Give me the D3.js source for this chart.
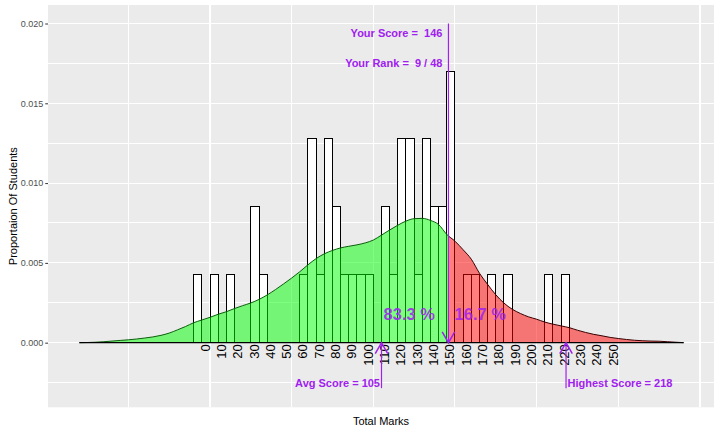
<!DOCTYPE html>
<html><head><meta charset="utf-8">
<script src="https://cdn.jsdelivr.net/npm/d3@7"></script>
<style>
body{margin:0;background:#fff}
svg{display:block}
text{font-family:"Liberation Sans",Arial,sans-serif}
</style>
</head><body>
<svg id="chart" width="720" height="432"></svg>
<script>
// ---- data ----
const binStarts = [-10,0,10,25,30,55,60,65,70,75,80,85,90,95,105,110,115,120,125,130,135,140,145,155,160,170,180,205,215];
const binCounts = [1,1,1,2,1,1,3,1,3,2,1,1,1,1,2,1,3,3,1,3,2,2,4,1,1,1,1,1,1];
const binWidth = 5;

const densityX = [-80,-75,-70,-65,-60,-55,-50,-45,-40,-35,-30,-25,-20,-15,-10,-5,
  0,5,10,15,20,25,30,35,40,45,50,55,60,65,70,75,80,85,90,95,100,
  105,110,115,120,125,130,135,140,145,150,155,160,165,170,175,180,185,190,195,200,
  205,210,215,220,225,230,235,240,245,250,255,260,265,270,275,280,285,290];
const densityY = [0,0.00001,0.00003,0.00006,0.0001,0.00014,0.00018,0.00023,0.00029,0.00036,0.00046,0.0006,0.0008,0.00101,0.00125,0.00142,
  0.00159,0.00178,0.00194,0.00214,0.00232,0.00249,0.00271,0.00299,0.00332,0.00368,0.00405,0.00445,0.00488,0.00527,0.00557,0.00578,0.00594,0.00604,0.00613,0.00625,0.00643,
  0.00674,0.00706,0.00736,0.00762,0.00777,0.00779,0.00766,0.0074,0.00678,0.00636,0.00582,0.00523,0.00435,0.00365,0.003,0.00248,0.0021,0.00183,0.00162,0.00147,
  0.00129,0.00116,0.00105,0.00094,0.00078,0.00064,0.00052,0.00043,0.00033,0.00026,0.0002,0.00015,0.00012,0.0001,0.00009,0.00006,0.00003,0];

const markLabels = [0,10,20,30,40,50,60,70,80,90,100,110,120,130,140,150,160,170,180,190,200,210,220,230,240,250];
const yTicks = [0,0.005,0.01,0.015,0.02];
const yMinor = [-0.0025,0.0025,0.0075,0.0125,0.0175];
const xMajor = [0,100,200,300];
const xMinor = [-50,50,150,250];

const yourScore = 146, avgScore = 105, highestScore = 218, yourRank = 9, classSize = 48;
const pctBelowText = "83.3 %", pctAboveText = "16.7 %";
const yourScoreTop = 0.02, arrowBottom = -0.00285;
const textYScore = 0.0194, textYRank = 0.0175, textYBottom = -0.0025, textYPct = 0.00178;
const pctBelowX = 122, pctAboveX = 165.5;

const yTitle = "Proportaion Of Students";
const xTitle = "Total Marks";

// ---- layout ----
const svg = d3.select("#chart");
const panel = {left:48, right:714, top:5, bottom:407.3};
const x = d3.scaleLinear().domain([-99.2, 308.6]).range([panel.left, panel.right]);
const y = d3.scaleLinear().domain([-0.00405, 0.02116]).range([panel.bottom, panel.top]);
const purple = "#A020F0";
const nTotal = d3.sum(binCounts);

svg.append("rect").attr("x",panel.left).attr("y",panel.top)
  .attr("width",panel.right-panel.left).attr("height",panel.bottom-panel.top)
  .attr("fill","#EBEBEB");

const grid = svg.append("g").attr("stroke","#fff").attr("shape-rendering","crispEdges");
grid.selectAll(".hmin").data(yMinor).join("line")
  .attr("x1",panel.left).attr("x2",panel.right).attr("y1",d=>y(d)).attr("y2",d=>y(d)).attr("stroke-width",1);
grid.selectAll(".hmaj").data(yTicks).join("line")
  .attr("x1",panel.left).attr("x2",panel.right).attr("y1",d=>y(d)).attr("y2",d=>y(d)).attr("stroke-width",1.1);
grid.selectAll(".vmin").data(xMinor).join("line")
  .attr("y1",panel.top).attr("y2",panel.bottom).attr("x1",d=>x(d)).attr("x2",d=>x(d)).attr("stroke-width",1);
grid.selectAll(".vmaj").data(xMajor).join("line")
  .attr("y1",panel.top).attr("y2",panel.bottom).attr("x1",d=>x(d)).attr("x2",d=>x(d)).attr("stroke-width",1.1);

// histogram bars
const bins = binStarts.map((s,i)=>({x0:s, x1:s+binWidth, p: binCounts[i]/(nTotal*binWidth)}));
svg.append("g").selectAll("rect").data(bins).join("rect")
  .attr("x",d=>x(d.x0)).attr("width",d=>x(d.x1)-x(d.x0))
  .attr("y",d=>y(d.p)).attr("height",d=>y(0)-y(d.p))
  .attr("fill","#fff").attr("stroke","#000").attr("stroke-width",1)
  .attr("shape-rendering","crispEdges");

// density
const dens = densityX.map((v,i)=>[v,densityY[i]]);
const defs = svg.append("defs");
defs.append("clipPath").attr("id","clipL").append("rect")
  .attr("x",0).attr("y",0).attr("width",x(yourScore)).attr("height",432);
defs.append("clipPath").attr("id","clipR").append("rect")
  .attr("x",x(yourScore)).attr("y",0).attr("width",720-x(yourScore)).attr("height",432);
const area = d3.area().x(d=>x(d[0])).y0(y(0)).y1(d=>y(d[1])).curve(d3.curveMonotoneX);
const line = d3.line().x(d=>x(d[0])).y(d=>y(d[1])).curve(d3.curveMonotoneX);
svg.append("path").attr("d",area(dens)).attr("fill","#00FF00").attr("fill-opacity",0.5).attr("clip-path","url(#clipL)");
svg.append("path").attr("d",area(dens)).attr("fill","#FF0000").attr("fill-opacity",0.5).attr("clip-path","url(#clipR)");
svg.append("path").attr("d",line(dens)).attr("fill","none").attr("stroke","#0b5e0b").attr("stroke-width",1).attr("clip-path","url(#clipL)");
svg.append("path").attr("d",line(dens)).attr("fill","none").attr("stroke","#3a0000").attr("stroke-width",1).attr("clip-path","url(#clipR)");
svg.append("line").attr("x1",x(densityX[0])).attr("x2",x(densityX[densityX.length-1]))
  .attr("y1",y(0)).attr("y2",y(0)).attr("stroke","#000").attr("stroke-width",1.2);

// y axis
const yAxis = d3.axisLeft(y).tickValues(yTicks).tickSize(2.75).tickPadding(2).tickFormat(d3.format(".3f"));
const ga = svg.append("g").attr("transform",`translate(${panel.left},0)`).call(yAxis);
ga.select(".domain").remove();
ga.selectAll("line").attr("stroke","#333");
ga.selectAll("text").attr("fill","#4D4D4D").attr("font-size",9).attr("font-family","Liberation Sans, Arial, sans-serif");

// mark labels along the zero line
svg.append("g").selectAll("text").data(markLabels).join("text")
  .attr("transform",d=>`translate(${x(d)-0.5},${y(0)+1.5}) rotate(-90)`)
  .attr("text-anchor","end").attr("font-size",13).attr("fill","#000").text(d=>d);

// arrows
const mk = defs.append("marker").attr("id","arr").attr("markerUnits","userSpaceOnUse")
  .attr("markerWidth",20).attr("markerHeight",20).attr("refX",0).attr("refY",0)
  .attr("viewBox","-12 -8 14 16").attr("orient","auto");
mk.append("path").attr("d","M-8.7,-5L0,0L-8.7,5").attr("fill","none").attr("stroke",purple).attr("stroke-width",1.2);

svg.append("line").attr("x1",x(yourScore)).attr("x2",x(yourScore))
  .attr("y1",y(yourScoreTop)).attr("y2",y(0)).attr("stroke",purple).attr("stroke-width",1.2).attr("marker-end","url(#arr)");
svg.append("line").attr("x1",x(avgScore)).attr("x2",x(avgScore))
  .attr("y1",y(arrowBottom)).attr("y2",y(0)).attr("stroke",purple).attr("stroke-width",1.2).attr("marker-end","url(#arr)");
svg.append("line").attr("x1",x(highestScore)).attr("x2",x(highestScore))
  .attr("y1",y(arrowBottom)).attr("y2",y(0)).attr("stroke",purple).attr("stroke-width",1.2).attr("marker-end","url(#arr)");

// annotations
const ann = svg.append("g").attr("fill",purple).attr("font-weight","bold").attr("font-size",11);
ann.append("text").attr("x",x(yourScore)-6).attr("y",y(textYScore)).attr("dominant-baseline","central")
  .attr("text-anchor","end").attr("xml:space","preserve").style("white-space","pre").text(`Your Score =  ${yourScore}`);
ann.append("text").attr("x",x(yourScore)-6).attr("y",y(textYRank)).attr("dominant-baseline","central")
  .attr("text-anchor","end").style("white-space","pre").text(`Your Rank =  ${yourRank} / ${classSize}`);
ann.append("text").attr("x",x(avgScore)-1.5).attr("y",y(textYBottom)).attr("dominant-baseline","central")
  .attr("text-anchor","end").text(`Avg Score = ${avgScore}`);
ann.append("text").attr("x",x(highestScore)+1.5).attr("y",y(textYBottom)).attr("dominant-baseline","central")
  .attr("text-anchor","start").text(`Highest Score = ${highestScore}`);
ann.append("text").attr("x",x(pctBelowX)).attr("y",y(textYPct)).attr("dominant-baseline","central")
  .attr("text-anchor","middle").attr("font-size",16.5).attr("fill-opacity",0.85).style("white-space","pre").text(pctBelowText);
ann.append("text").attr("x",x(pctAboveX)).attr("y",y(textYPct)).attr("dominant-baseline","central")
  .attr("text-anchor","middle").attr("font-size",16.5).attr("fill-opacity",0.85).style("white-space","pre").text(pctAboveText);

// titles
svg.append("text").attr("x",(panel.left+panel.right)/2).attr("y",425).attr("text-anchor","middle")
  .attr("font-size",11).attr("fill","#000").text(xTitle);
svg.append("text").attr("transform",`translate(16.5,${(panel.top+panel.bottom)/2}) rotate(-90)`)
  .attr("text-anchor","middle").attr("font-size",11).attr("fill","#000").text(yTitle);
</script>
</body></html>
